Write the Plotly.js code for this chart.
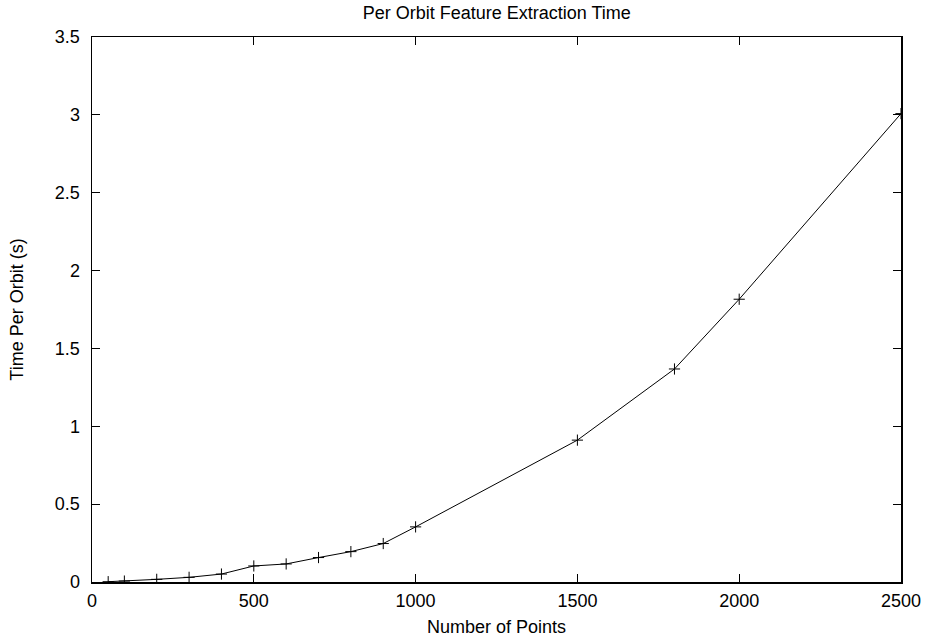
<!DOCTYPE html>
<html>
<head>
<meta charset="utf-8">
<script src="https://cdn.plot.ly/plotly-3.0.1.min.js"></script>
<style>
  html, body { margin: 0; padding: 0; background: #fff; }
  #chart { width: 926px; height: 639px; }
</style>
</head>
<body>
<div id="chart"></div>
<script>
// Number of points per orbit and the measured extraction time (seconds)
const numPoints = [50, 100, 200, 300, 400, 500, 600, 700, 800, 900, 1000, 1500, 1800, 2000, 2500];
const timePerOrbit = [0.002, 0.006, 0.017, 0.03, 0.051, 0.103, 0.116, 0.157, 0.195, 0.247, 0.354, 0.911, 1.368, 1.816, 3.008];

const xTicks = [0, 500, 1000, 1500, 2000, 2500];
const yTicks = [0, 0.5, 1, 1.5, 2, 2.5, 3, 3.5];
const yTickText = ['0', '0.5', '1', '1.5', '2', '2.5', '3', '3.5'];

const font = { family: '"Liberation Sans", Arial, sans-serif', size: 18, color: '#000' };

const trace = {
  x: numPoints,
  y: timePerOrbit,
  type: 'scatter',
  mode: 'lines+markers',
  line: { color: '#000', width: 1 },
  marker: { symbol: 'cross-thin-open', size: 8, color: '#000', line: { color: '#000', width: 1 } },
  showlegend: false,
  hoverinfo: 'x+y'
};

const axisCommon = {
  showline: true,
  mirror: 'ticks',
  linecolor: '#000',
  linewidth: 1.5,
  ticks: 'inside',
  ticklen: 8,
  tickwidth: 1,
  tickcolor: '#000',
  showgrid: false,
  zeroline: false,
  tickfont: font
};

const layout = {
  width: 926,
  height: 639,
  paper_bgcolor: '#fff',
  plot_bgcolor: '#fff',
  margin: { l: 92, r: 25, t: 37, b: 57 },
  font: font,
  title: {
    text: 'Per Orbit Feature Extraction Time',
    font: font,
    x: 0.5364, xanchor: 'center',
    y: 0.9805, yanchor: 'middle'
  },
  xaxis: Object.assign({}, axisCommon, {
    range: [0, 2500],
    tickvals: xTicks,
    ticktext: xTicks.map(String),
    ticklabelstandoff: 2,
    title: { text: 'Number of Points', font: font, standoff: 10 }
  }),
  yaxis: Object.assign({}, axisCommon, {
    range: [0, 3.5],
    tickvals: yTicks,
    ticktext: yTickText,
    ticklabelstandoff: 7,
    title: { text: 'Time Per Orbit (s)', font: font, standoff: 26 }
  })
};

Plotly.newPlot('chart', [trace], layout, { displayModeBar: false, staticPlot: true });
</script>
</body>
</html>
